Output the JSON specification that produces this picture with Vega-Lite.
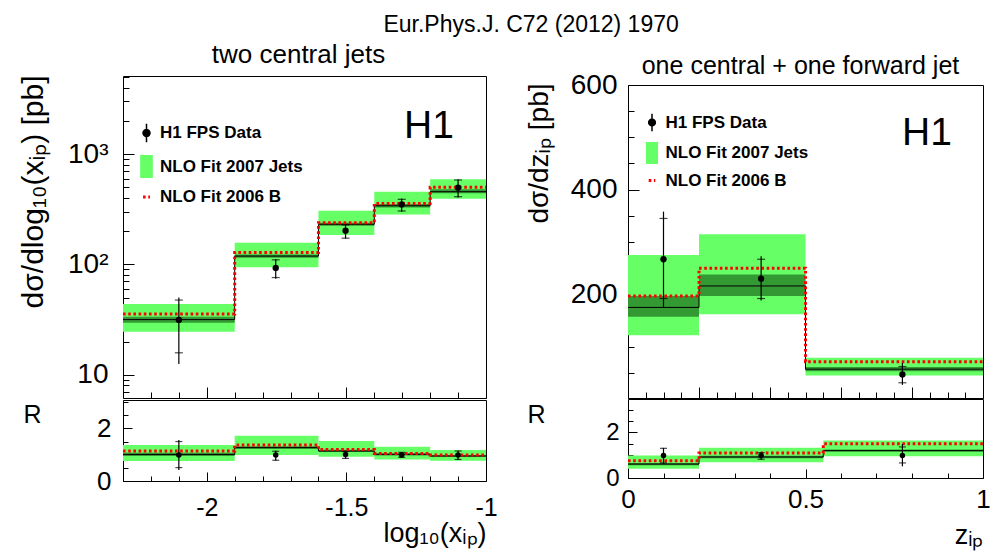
{
  "$schema": "https://vega.github.io/schema/vega-lite/v6.json",
  "padding": {"left": 17, "top": 14, "right": 2, "bottom": 2},
  "background": "white",
  "title": {"text": "Eur.Phys.J. C72 (2012) 1970", "fontSize": 23, "font": "Liberation Sans", "fontWeight": "normal", "color": "black", "anchor": "middle", "frame": "bounds", "baseline": "alphabetic", "offset": -20, "dx": 27},
  "config": {
    "font": "Liberation Sans",
    "view": {"stroke": "black", "strokeWidth": 1},
    "axis": {"grid": false, "domain": false, "tickColor": "black", "labelColor": "black", "titleColor": "black", "labelFont": "Liberation Sans", "titleFont": "Liberation Sans", "labelFlush": false, "labelOverlap": false, "tickWidth": 1, "titleFontWeight": "normal"}
  },
  "datasets": {
    "lu_bins": [
      {"lo": -2.3, "hi": -1.9, "blo": 24.5, "bhi": 43.7, "dlo": 29.6, "dhi": 33.6},
      {"lo": -1.9, "hi": -1.6, "blo": 94, "bhi": 157, "dlo": 115, "dhi": 123},
      {"lo": -1.6, "hi": -1.4, "blo": 185, "bhi": 307, "dlo": 224, "dhi": 238},
      {"lo": -1.4, "hi": -1.2, "blo": 284, "bhi": 456, "dlo": 328, "dhi": 352},
      {"lo": -1.2, "hi": -1.0, "blo": 394, "bhi": 590, "dlo": 441, "dhi": 479}
    ],
    "lu_edges": [
      {"x": -2.3, "nlo": 31.6, "b": 35.5},
      {"x": -1.9, "nlo": 119, "b": 128},
      {"x": -1.6, "nlo": 231, "b": 239},
      {"x": -1.4, "nlo": 340, "b": 357},
      {"x": -1.2, "nlo": 456, "b": 500},
      {"x": -1.0, "nlo": 456, "b": 500}
    ],
    "lu_pts": [
      {"x": -2.1, "y": 31.4, "tlo": 12.5, "thi": 50, "slo": 15.8, "shi": 47.5},
      {"x": -1.753, "y": 93, "tlo": 74, "thi": 112, "slo": 76, "shi": 110},
      {"x": -1.503, "y": 202, "tlo": 171, "thi": 230, "slo": 173, "shi": 228},
      {"x": -1.302, "y": 350, "tlo": 300, "thi": 395, "slo": 305, "shi": 389},
      {"x": -1.1, "y": 496, "tlo": 405, "thi": 590, "slo": 411, "shi": 582}
    ],
    "ll_bins": [
      {"lo": -2.3, "hi": -1.9, "blo": 0.76, "bhi": 1.37, "dlo": 0.95, "dhi": 1.07},
      {"lo": -1.9, "hi": -1.6, "blo": 0.99, "bhi": 1.72, "dlo": 1.22, "dhi": 1.32},
      {"lo": -1.6, "hi": -1.4, "blo": 0.92, "bhi": 1.52, "dlo": 1.1, "dhi": 1.19},
      {"lo": -1.4, "hi": -1.2, "blo": 0.82, "bhi": 1.3, "dlo": 0.97, "dhi": 1.06},
      {"lo": -1.2, "hi": -1.0, "blo": 0.77, "bhi": 1.18, "dlo": 0.91, "dhi": 0.99}
    ],
    "ll_edges": [
      {"x": -2.3, "nlo": 1.01, "b": 1.14},
      {"x": -1.9, "nlo": 1.27, "b": 1.37},
      {"x": -1.6, "nlo": 1.14, "b": 1.2},
      {"x": -1.4, "nlo": 1.01, "b": 1.05},
      {"x": -1.2, "nlo": 0.95, "b": 0.99},
      {"x": -1.0, "nlo": 0.95, "b": 0.99}
    ],
    "ll_pts": [
      {"x": -2.1, "y": 0.99, "tlo": 0.42, "thi": 1.56, "slo": 0.51, "shi": 1.5},
      {"x": -1.753, "y": 0.99, "tlo": 0.77, "thi": 1.15, "slo": 0.79, "shi": 1.13},
      {"x": -1.503, "y": 1.01, "tlo": 0.84, "thi": 1.14, "slo": 0.86, "shi": 1.12},
      {"x": -1.302, "y": 0.99, "tlo": 0.89, "thi": 1.1, "slo": 0.9, "shi": 1.09},
      {"x": -1.1, "y": 0.99, "tlo": 0.8, "thi": 1.15, "slo": 0.82, "shi": 1.14}
    ],
    "ru_bins": [
      {"lo": 0, "hi": 0.2, "blo": 122, "bhi": 275, "dlo": 157, "dhi": 197},
      {"lo": 0.2, "hi": 0.5, "blo": 162, "bhi": 315, "dlo": 197, "dhi": 238},
      {"lo": 0.5, "hi": 1.0, "blo": 45, "bhi": 79, "dlo": 53, "dhi": 61}
    ],
    "ru_edges": [
      {"x": 0, "nlo": 175, "b": 197},
      {"x": 0.2, "nlo": 216, "b": 250},
      {"x": 0.5, "nlo": 57, "b": 71},
      {"x": 1.0, "nlo": 57, "b": 71}
    ],
    "ru_pts": [
      {"x": 0.1, "y": 267, "tlo": 176, "thi": 358, "slo": 192, "shi": 345},
      {"x": 0.375, "y": 230, "tlo": 188, "thi": 273, "slo": 192, "shi": 267},
      {"x": 0.773, "y": 47, "tlo": 27, "thi": 69, "slo": 31, "shi": 62}
    ],
    "rl_bins": [
      {"lo": 0, "hi": 0.2, "blo": 0.41, "bhi": 0.99, "dlo": 0.56, "dhi": 0.66},
      {"lo": 0.2, "hi": 0.55, "blo": 0.69, "bhi": 1.32, "dlo": 0.87, "dhi": 0.97},
      {"lo": 0.55, "hi": 1.0, "blo": 0.95, "bhi": 1.64, "dlo": 1.15, "dhi": 1.25}
    ],
    "rl_edges": [
      {"x": 0, "nlo": 0.61, "b": 0.76},
      {"x": 0.2, "nlo": 0.92, "b": 1.1},
      {"x": 0.55, "nlo": 1.2, "b": 1.5},
      {"x": 1.0, "nlo": 1.2, "b": 1.5}
    ],
    "rl_pts": [
      {"x": 0.1, "y": 0.99, "tlo": 0.63, "thi": 1.32, "slo": 0.66, "shi": 1.3},
      {"x": 0.375, "y": 0.99, "tlo": 0.8, "thi": 1.13, "slo": 0.82, "shi": 1.11},
      {"x": 0.773, "y": 0.99, "tlo": 0.51, "thi": 1.49, "slo": 0.66, "shi": 1.36}
    ],
    "one": [{"k": 1}]
  },
  "hconcat": [
    {
      "vconcat": [
        {"width": 363, "height": 39, "view": {"stroke": null}, "data": {"values": []}, "mark": "point", "encoding": {}},
        {
          "width": 363, "height": 322,
          "title": {"text": "two central jets", "fontSize": 26, "font": "Liberation Sans", "fontWeight": "normal", "color": "black", "anchor": "middle", "frame": "group", "baseline": "alphabetic", "offset": -26, "dx": -6},
          "resolve": {"axis": {"x": "independent", "y": "independent"}},
          "layer": [
            {"data": {"name": "lu_bins"}, "mark": "rect",
             "encoding": {
               "x": {"field": "lo", "type": "quantitative", "scale": {"domain": [-2.3, -1.0], "nice": false, "zero": false},
                     "axis": {"values": [-2.3, -2.2, -2.1, -2.0, -1.9, -1.8, -1.7, -1.6, -1.5, -1.4, -1.3, -1.2, -1.1, -1.0], "labels": false, "title": null, "labelOverlap": false,
                              "tickSize": {"condition": {"test": "indexof([-2,-1.5,-1], datum.value) >= 0", "value": -11}, "value": -6}}},
               "x2": {"field": "hi"},
               "y": {"field": "blo", "type": "quantitative", "scale": {"type": "log", "domain": [6.15, 5105], "nice": false},
                     "axis": {"values": [7, 8, 9, 10, 20, 30, 40, 50, 60, 70, 80, 90, 100, 200, 300, 400, 500, 600, 700, 800, 900, 1000, 2000, 3000, 4000, 5000],
                              "tickSize": {"condition": {"test": "indexof([10,100,1000], datum.value) >= 0", "value": -11}, "value": -6},
                              "labelExpr": "datum.value == 1000 ? '10³' : datum.value == 100 ? '10²' : datum.value == 10 ? '10' : ''",
                              "labelFontSize": 28, "labelPadding": 26, "labelOverlap": false,
                              "title": "dσ/dlog₁₀(xᵢₚ) [pb]", "titleFontSize": 30, "titleAngle": 270, "titleAlign": "right", "titleBaseline": "alphabetic", "titleX": -81, "titleY": -1}},
               "y2": {"field": "bhi"},
               "color": {"datum": "NLO Fit 2007 Jets", "type": "nominal",
                         "scale": {"domain": ["H1 FPS Data", "NLO Fit 2007 Jets", "NLO Fit 2006 B"], "range": ["#000000", "#66ff66", "#ff0000"]},
                         "legend": {"orient": "none", "legendX": 15, "legendY": 48.5, "title": null, "labelFontSize": 17, "labelFontWeight": "bold", "labelFont": "Liberation Sans", "labelColor": "black", "labelLimit": 400, "symbolSize": 529, "rowPadding": 7.5, "labelOffset": 5, "padding": 0,
                                    "encode": {"symbols": {"update": {
                                      "shape": {"signal": "datum.value === 'H1 FPS Data' ? 'M0,-0.8L0,0.8M-0.3,0A0.3,0.3,0,1,0,0.3,0A0.3,0.3,0,1,0,-0.3,0Z' : datum.value === 'NLO Fit 2007 Jets' ? 'M-0.55,0L0.55,0L0.55,-1L-0.55,-1L-0.55,1L0.55,1L0.55,0Z' : 'M-0.3,0L0.3,0'"},
                                      "fill": {"signal": "datum.value === 'H1 FPS Data' ? '#000000' : datum.value === 'NLO Fit 2007 Jets' ? '#66ff66' : 'transparent'"},
                                      "stroke": {"signal": "datum.value === 'NLO Fit 2006 B' ? '#ff0000' : '#000000'"},
                                      "strokeWidth": {"signal": "datum.value === 'NLO Fit 2006 B' ? 3 : datum.value === 'NLO Fit 2007 Jets' ? 1 : 1.5"},
                                      "strokeDash": {"signal": "datum.value === 'NLO Fit 2006 B' ? [2.6, 2.6] : datum.value === 'NLO Fit 2007 Jets' ? [12.6, 3000] : [1, 0]"},
                                      "opacity": {"value": 1}, "fillOpacity": {"value": 1}, "strokeOpacity": {"value": 1}}}}}}}},
            {"data": {"name": "lu_bins"}, "mark": {"type": "rect", "color": "#339933"},
             "encoding": {"x": {"field": "lo", "type": "quantitative", "axis": null}, "x2": {"field": "hi"},
                          "y": {"field": "dlo", "type": "quantitative", "axis": null}, "y2": {"field": "dhi"}}},
            {"data": {"name": "lu_edges"}, "mark": {"type": "line", "interpolate": "step-after", "color": "black", "strokeWidth": 1},
             "encoding": {"x": {"field": "x", "type": "quantitative", "axis": null}, "y": {"field": "nlo", "type": "quantitative", "axis": null}}},
            {"data": {"name": "lu_edges"}, "mark": {"type": "line", "interpolate": "step-after", "strokeWidth": 3, "strokeDash": [2.6, 2.6]},
             "encoding": {"x": {"field": "x", "type": "quantitative", "axis": null}, "y": {"field": "b", "type": "quantitative", "axis": null},
                          "color": {"datum": "NLO Fit 2006 B", "type": "nominal"}}},
            {"data": {"name": "lu_pts"}, "mark": {"type": "rule", "color": "black", "strokeWidth": 1.2},
             "encoding": {"x": {"field": "x", "type": "quantitative", "axis": null}, "y": {"field": "tlo", "type": "quantitative", "axis": null}, "y2": {"field": "thi"}}},
            {"data": {"name": "lu_pts"}, "mark": {"type": "tick", "orient": "horizontal", "color": "black", "size": 8, "thickness": 1.2},
             "encoding": {"x": {"field": "x", "type": "quantitative", "axis": null}, "y": {"field": "slo", "type": "quantitative", "axis": null}}},
            {"data": {"name": "lu_pts"}, "mark": {"type": "tick", "orient": "horizontal", "color": "black", "size": 8, "thickness": 1.2},
             "encoding": {"x": {"field": "x", "type": "quantitative", "axis": null}, "y": {"field": "shi", "type": "quantitative", "axis": null}}},
            {"data": {"name": "lu_pts"}, "mark": {"type": "point", "filled": true, "size": 40, "opacity": 1, "shape": "circle"},
             "encoding": {"x": {"field": "x", "type": "quantitative", "axis": null}, "y": {"field": "y", "type": "quantitative", "axis": null},
                          "color": {"datum": "H1 FPS Data", "type": "nominal"}}},
            {"data": {"name": "one"}, "mark": {"type": "text", "text": "H1", "fontSize": 39, "font": "Liberation Sans", "align": "center", "baseline": "alphabetic", "color": "black"},
             "encoding": {"x": {"datum": -1.204, "type": "quantitative", "axis": null}, "y": {"datum": 1400, "type": "quantitative", "axis": null}}}
          ]
        },
        {
          "width": 363, "height": 81,
          "resolve": {"axis": {"x": "independent", "y": "independent"}},
          "layer": [
            {"data": {"name": "ll_bins"}, "mark": {"type": "rect", "color": "#66ff66"},
             "encoding": {
               "x": {"field": "lo", "type": "quantitative", "scale": {"domain": [-2.3, -1.0], "nice": false, "zero": false},
                     "axis": {"values": [-2.3, -2.2, -2.1, -2.0, -1.9, -1.8, -1.7, -1.6, -1.5, -1.4, -1.3, -1.2, -1.1, -1.0],
                              "tickSize": {"condition": {"test": "indexof([-2,-1.5,-1], datum.value) >= 0", "value": -9}, "value": -5},
                              "labelExpr": "datum.value == -2 ? '-2' : datum.value == -1.5 ? '-1.5' : datum.value == -1 ? '-1' : ''",
                              "labelFontSize": 25, "labelPadding": 23, "labelOverlap": false,
                              "title": "log₁₀(xᵢₚ)", "titleFontSize": 27, "titleX": 363, "titleY": 60, "titleAlign": "right", "titleBaseline": "alphabetic"}},
               "x2": {"field": "hi"},
               "y": {"field": "blo", "type": "quantitative", "scale": {"domain": [0, 3.08], "nice": false, "zero": false},
                     "axis": {"values": [0, 0.5, 1, 1.5, 2, 2.5, 3],
                              "tickSize": {"condition": {"test": "indexof([0,2], datum.value) >= 0", "value": -9}, "value": -5},
                              "labelExpr": "datum.value == 2 ? '2' : datum.value == 0 ? '0' : ''",
                              "labelFontSize": 26, "labelPadding": 21, "labelOverlap": false,
                              "title": "R", "titleFontSize": 25, "titleAngle": 0, "titleAlign": "center", "titleBaseline": "middle", "titleX": -91, "titleY": 14}},
               "y2": {"field": "bhi"}}},
            {"data": {"name": "ll_bins"}, "mark": {"type": "rect", "color": "#339933"},
             "encoding": {"x": {"field": "lo", "type": "quantitative", "axis": null}, "x2": {"field": "hi"},
                          "y": {"field": "dlo", "type": "quantitative", "axis": null}, "y2": {"field": "dhi"}}},
            {"data": {"name": "ll_edges"}, "mark": {"type": "line", "interpolate": "step-after", "color": "black", "strokeWidth": 1},
             "encoding": {"x": {"field": "x", "type": "quantitative", "axis": null}, "y": {"field": "nlo", "type": "quantitative", "axis": null}}},
            {"data": {"name": "ll_edges"}, "mark": {"type": "line", "interpolate": "step-after", "strokeWidth": 3, "strokeDash": [2.6, 2.6], "color": "#ff0000"},
             "encoding": {"x": {"field": "x", "type": "quantitative", "axis": null}, "y": {"field": "b", "type": "quantitative", "axis": null}}},
            {"data": {"name": "ll_pts"}, "mark": {"type": "rule", "color": "black", "strokeWidth": 1.2},
             "encoding": {"x": {"field": "x", "type": "quantitative", "axis": null}, "y": {"field": "tlo", "type": "quantitative", "axis": null}, "y2": {"field": "thi"}}},
            {"data": {"name": "ll_pts"}, "mark": {"type": "tick", "orient": "horizontal", "color": "black", "size": 7, "thickness": 1.2},
             "encoding": {"x": {"field": "x", "type": "quantitative", "axis": null}, "y": {"field": "slo", "type": "quantitative", "axis": null}}},
            {"data": {"name": "ll_pts"}, "mark": {"type": "tick", "orient": "horizontal", "color": "black", "size": 7, "thickness": 1.2},
             "encoding": {"x": {"field": "x", "type": "quantitative", "axis": null}, "y": {"field": "shi", "type": "quantitative", "axis": null}}},
            {"data": {"name": "ll_pts"}, "mark": {"type": "point", "filled": true, "size": 30, "opacity": 1, "shape": "circle", "color": "black"},
             "encoding": {"x": {"field": "x", "type": "quantitative", "axis": null}, "y": {"field": "y", "type": "quantitative", "axis": null}}}
          ]
        }
      ],
      "spacing": 2,
      "bounds": "flush",
      "resolve": {"scale": {"x": "independent", "y": "independent", "color": "independent"}, "legend": {"color": "independent"}}
    },
    {
      "vconcat": [
        {"width": 355, "height": 49, "view": {"stroke": null}, "data": {"values": []}, "mark": "point", "encoding": {}},
        {
          "width": 355, "height": 313,
          "title": {"text": "one central + one forward jet", "fontSize": 25, "font": "Liberation Sans", "fontWeight": "normal", "color": "black", "anchor": "middle", "frame": "group", "baseline": "alphabetic", "offset": -28, "dx": -5},
          "resolve": {"axis": {"x": "independent", "y": "independent"}},
          "layer": [
            {"data": {"name": "ru_bins"}, "mark": "rect",
             "encoding": {
               "x": {"field": "lo", "type": "quantitative", "scale": {"domain": [0, 1], "nice": false, "zero": false},
                     "axis": {"values": [0, 0.05, 0.1, 0.15, 0.2, 0.25, 0.3, 0.35, 0.4, 0.45, 0.5, 0.55, 0.6, 0.65, 0.7, 0.75, 0.8, 0.85, 0.9, 0.95, 1], "labels": false, "title": null, "labelOverlap": false,
                              "tickSize": {"condition": {"test": "indexof([0,0.2,0.4,0.6,0.8,1], datum.value) >= 0", "value": -11}, "value": -6}}},
               "x2": {"field": "hi"},
               "y": {"field": "blo", "type": "quantitative", "scale": {"domain": [1.9, 600], "nice": false, "zero": false},
                     "axis": {"values": [50, 100, 150, 200, 250, 300, 350, 400, 450, 500, 550, 600],
                              "tickSize": {"condition": {"test": "indexof([200,400,600], datum.value) >= 0", "value": -11}, "value": -6},
                              "labelExpr": "datum.value == 200 ? '200' : datum.value == 400 ? '400' : datum.value == 600 ? '600' : ''",
                              "labelFontSize": 28, "labelPadding": 22, "labelOverlap": false,
                              "title": "dσ/dzᵢₚ [pb]", "titleFontSize": 28, "titleAngle": 270, "titleAlign": "right", "titleBaseline": "alphabetic", "titleX": -81, "titleY": -2}},
               "y2": {"field": "bhi"},
               "color": {"datum": "NLO Fit 2007 Jets", "type": "nominal",
                         "scale": {"domain": ["H1 FPS Data", "NLO Fit 2007 Jets", "NLO Fit 2006 B"], "range": ["#000000", "#66ff66", "#ff0000"]},
                         "legend": {"orient": "none", "legendX": 15.5, "legendY": 29, "title": null, "labelFontSize": 17, "labelFontWeight": "bold", "labelFont": "Liberation Sans", "labelColor": "black", "labelLimit": 400, "symbolSize": 484, "rowPadding": 4.5, "labelOffset": 5, "padding": 0,
                                    "encode": {"symbols": {"update": {
                                      "shape": {"signal": "datum.value === 'H1 FPS Data' ? 'M0,-0.8L0,0.8M-0.3,0A0.3,0.3,0,1,0,0.3,0A0.3,0.3,0,1,0,-0.3,0Z' : datum.value === 'NLO Fit 2007 Jets' ? 'M-0.55,0L0.55,0L0.55,-1L-0.55,-1L-0.55,1L0.55,1L0.55,0Z' : 'M-0.3,0L0.3,0'"},
                                      "fill": {"signal": "datum.value === 'H1 FPS Data' ? '#000000' : datum.value === 'NLO Fit 2007 Jets' ? '#66ff66' : 'transparent'"},
                                      "stroke": {"signal": "datum.value === 'NLO Fit 2006 B' ? '#ff0000' : '#000000'"},
                                      "strokeWidth": {"signal": "datum.value === 'NLO Fit 2006 B' ? 3 : datum.value === 'NLO Fit 2007 Jets' ? 1 : 1.5"},
                                      "strokeDash": {"signal": "datum.value === 'NLO Fit 2006 B' ? [2.6, 2.6] : datum.value === 'NLO Fit 2007 Jets' ? [12.1, 3000] : [1, 0]"},
                                      "opacity": {"value": 1}, "fillOpacity": {"value": 1}, "strokeOpacity": {"value": 1}}}}}}}},
            {"data": {"name": "ru_bins"}, "mark": {"type": "rect", "color": "#339933"},
             "encoding": {"x": {"field": "lo", "type": "quantitative", "axis": null}, "x2": {"field": "hi"},
                          "y": {"field": "dlo", "type": "quantitative", "axis": null}, "y2": {"field": "dhi"}}},
            {"data": {"name": "ru_edges"}, "mark": {"type": "line", "interpolate": "step-after", "color": "black", "strokeWidth": 1},
             "encoding": {"x": {"field": "x", "type": "quantitative", "axis": null}, "y": {"field": "nlo", "type": "quantitative", "axis": null}}},
            {"data": {"name": "ru_edges"}, "mark": {"type": "line", "interpolate": "step-after", "strokeWidth": 3, "strokeDash": [2.6, 2.6]},
             "encoding": {"x": {"field": "x", "type": "quantitative", "axis": null}, "y": {"field": "b", "type": "quantitative", "axis": null},
                          "color": {"datum": "NLO Fit 2006 B", "type": "nominal"}}},
            {"data": {"name": "ru_pts"}, "mark": {"type": "rule", "color": "black", "strokeWidth": 1.2},
             "encoding": {"x": {"field": "x", "type": "quantitative", "axis": null}, "y": {"field": "tlo", "type": "quantitative", "axis": null}, "y2": {"field": "thi"}}},
            {"data": {"name": "ru_pts"}, "mark": {"type": "tick", "orient": "horizontal", "color": "black", "size": 8, "thickness": 1.2},
             "encoding": {"x": {"field": "x", "type": "quantitative", "axis": null}, "y": {"field": "slo", "type": "quantitative", "axis": null}}},
            {"data": {"name": "ru_pts"}, "mark": {"type": "tick", "orient": "horizontal", "color": "black", "size": 8, "thickness": 1.2},
             "encoding": {"x": {"field": "x", "type": "quantitative", "axis": null}, "y": {"field": "shi", "type": "quantitative", "axis": null}}},
            {"data": {"name": "ru_pts"}, "mark": {"type": "point", "filled": true, "size": 40, "opacity": 1, "shape": "circle"},
             "encoding": {"x": {"field": "x", "type": "quantitative", "axis": null}, "y": {"field": "y", "type": "quantitative", "axis": null},
                          "color": {"datum": "H1 FPS Data", "type": "nominal"}}},
            {"data": {"name": "one"}, "mark": {"type": "text", "text": "H1", "fontSize": 39, "font": "Liberation Sans", "align": "center", "baseline": "alphabetic", "color": "black"},
             "encoding": {"x": {"datum": 0.842, "type": "quantitative", "axis": null}, "y": {"datum": 485, "type": "quantitative", "axis": null}}}
          ]
        },
        {
          "width": 355, "height": 79,
          "resolve": {"axis": {"x": "independent", "y": "independent"}},
          "layer": [
            {"data": {"name": "rl_bins"}, "mark": {"type": "rect", "color": "#66ff66"},
             "encoding": {
               "x": {"field": "lo", "type": "quantitative", "scale": {"domain": [0, 1], "nice": false, "zero": false},
                     "axis": {"values": [0, 0.1, 0.2, 0.3, 0.4, 0.5, 0.6, 0.7, 0.8, 0.9, 1],
                              "tickSize": {"condition": {"test": "indexof([0,0.5,1], datum.value) >= 0", "value": -9}, "value": -5},
                              "labelExpr": "datum.value == 0 ? '0' : datum.value == 0.5 ? '0.5' : datum.value == 1 ? '1' : ''",
                              "labelFontSize": 26, "labelPadding": 17, "labelOverlap": false,
                              "title": "zᵢₚ", "titleFontSize": 27, "titleX": 355, "titleY": 65, "titleAlign": "right", "titleBaseline": "alphabetic"}},
               "x2": {"field": "hi"},
               "y": {"field": "blo", "type": "quantitative", "scale": {"domain": [0, 3.46], "nice": false, "zero": false},
                     "axis": {"values": [0, 0.5, 1, 1.5, 2, 2.5, 3],
                              "tickSize": {"condition": {"test": "indexof([0,2], datum.value) >= 0", "value": -9}, "value": -5},
                              "labelExpr": "datum.value == 2 ? '2' : datum.value == 0 ? '0' : ''",
                              "labelFontSize": 24, "labelPadding": 18, "labelOverlap": false,
                              "title": "R", "titleFontSize": 25, "titleAngle": 0, "titleAlign": "center", "titleBaseline": "middle", "titleX": -92, "titleY": 15}},
               "y2": {"field": "bhi"}}},
            {"data": {"name": "rl_bins"}, "mark": {"type": "rect", "color": "#339933"},
             "encoding": {"x": {"field": "lo", "type": "quantitative", "axis": null}, "x2": {"field": "hi"},
                          "y": {"field": "dlo", "type": "quantitative", "axis": null}, "y2": {"field": "dhi"}}},
            {"data": {"name": "rl_edges"}, "mark": {"type": "line", "interpolate": "step-after", "color": "black", "strokeWidth": 1},
             "encoding": {"x": {"field": "x", "type": "quantitative", "axis": null}, "y": {"field": "nlo", "type": "quantitative", "axis": null}}},
            {"data": {"name": "rl_edges"}, "mark": {"type": "line", "interpolate": "step-after", "strokeWidth": 3, "strokeDash": [2.6, 2.6], "color": "#ff0000"},
             "encoding": {"x": {"field": "x", "type": "quantitative", "axis": null}, "y": {"field": "b", "type": "quantitative", "axis": null}}},
            {"data": {"name": "rl_pts"}, "mark": {"type": "rule", "color": "black", "strokeWidth": 1.2},
             "encoding": {"x": {"field": "x", "type": "quantitative", "axis": null}, "y": {"field": "tlo", "type": "quantitative", "axis": null}, "y2": {"field": "thi"}}},
            {"data": {"name": "rl_pts"}, "mark": {"type": "tick", "orient": "horizontal", "color": "black", "size": 7, "thickness": 1.2},
             "encoding": {"x": {"field": "x", "type": "quantitative", "axis": null}, "y": {"field": "slo", "type": "quantitative", "axis": null}}},
            {"data": {"name": "rl_pts"}, "mark": {"type": "tick", "orient": "horizontal", "color": "black", "size": 7, "thickness": 1.2},
             "encoding": {"x": {"field": "x", "type": "quantitative", "axis": null}, "y": {"field": "shi", "type": "quantitative", "axis": null}}},
            {"data": {"name": "rl_pts"}, "mark": {"type": "point", "filled": true, "size": 30, "opacity": 1, "shape": "circle", "color": "black"},
             "encoding": {"x": {"field": "x", "type": "quantitative", "axis": null}, "y": {"field": "y", "type": "quantitative", "axis": null}}}
          ]
        }
      ],
      "spacing": 1,
      "bounds": "flush",
      "resolve": {"scale": {"x": "independent", "y": "independent", "color": "independent"}, "legend": {"color": "independent"}}
    }
  ],
  "spacing": 26,
  "resolve": {"scale": {"x": "independent", "y": "independent", "color": "independent"}, "legend": {"color": "independent"}}
}
